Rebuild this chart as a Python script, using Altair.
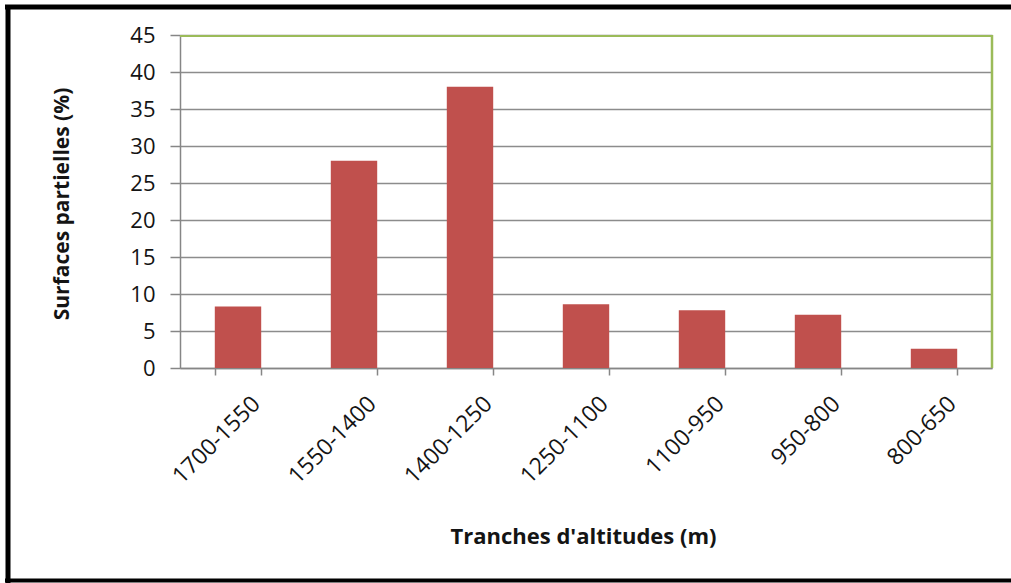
import altair as alt
import pandas as pd

# Altitude bands and the share of surface area in each (%)
tranches = ["1700-1550", "1550-1400", "1400-1250", "1250-1100", "1100-950", "950-800", "800-650"]
surfaces = [8.3, 28.0, 38.0, 8.6, 7.8, 7.2, 2.6]
y_ticks = [0, 5, 10, 15, 20, 25, 30, 35, 40, 45]

df = pd.DataFrame({"tranche": tranches, "surface": surfaces})
one = pd.DataFrame({"k": [0]})

W, H = 812, 333
PAD = {"left": 180, "top": 35, "right": 19, "bottom": 215}
FONT = "Open Sans"
TEXT = "#141414"
AXIS_GRAY = "#868686"

bars = alt.Chart(df).mark_bar(color="#C0504D").encode(
    x=alt.X(
        "tranche:N",
        sort=tranches,
        scale=alt.Scale(paddingInner=0.6, paddingOuter=0.3),
        axis=alt.Axis(
            title="Tranches d'altitudes (m)",
            labelAngle=-45,
            labelAlign="right",
            labelBaseline="middle",
            labelFont=FONT,
            labelFontSize=23,
            labelColor=TEXT,
            labelPadding=25,
            labelOffset=18,
            tickBand="extent",
            tickSize=7,
            tickColor=AXIS_GRAY,
            tickWidth=1.5,
            domainColor=AXIS_GRAY,
            domainWidth=1.5,
            titleFont=FONT,
            titleFontSize=22,
            titleFontWeight="bold",
            titleColor=TEXT,
            titleY=175,
            titleX=W / 2 - 3,
            titleBaseline="alphabetic",
        ),
    ),
    y=alt.Y(
        "surface:Q",
        scale=alt.Scale(domain=[0, 45], nice=False),
        axis=alt.Axis(
            values=y_ticks,
            title="Surfaces partielles (%)",
            grid=True,
            gridColor="#8C8C8C",
            gridWidth=1.5,
            tickSize=10,
            tickColor=AXIS_GRAY,
            tickWidth=1.5,
            domainColor=AXIS_GRAY,
            domainWidth=1.5,
            labelFont=FONT,
            labelFontSize=22,
            labelColor=TEXT,
            labelPadding=15,
            titleFont=FONT,
            titleFontSize=21,
            titleFontWeight="bold",
            titleColor=TEXT,
            titleAngle=-90,
            titleX=-118,
            titleY=H / 2 + 2,
            titleBaseline="middle",
        ),
    ),
)

# green plot-area border on the top and right sides
green_top = alt.Chart(one).mark_rule(color="#9BBB59", strokeWidth=2).encode(
    x=alt.value(0), x2=alt.value(W), y=alt.value(1)
)
green_right = alt.Chart(one).mark_rule(color="#9BBB59", strokeWidth=2.5).encode(
    x=alt.value(W), y=alt.value(0), y2=alt.value(H)
)

# black frame around the whole figure
frame_top = alt.Chart(one).mark_rule(color="black", strokeWidth=5).encode(
    x=alt.value(-175), x2=alt.value(W + 40), y=alt.value(-28)
)
frame_left = alt.Chart(one).mark_rule(color="black", strokeWidth=5).encode(
    x=alt.value(-172), y=alt.value(-30), y2=alt.value(H + 260)
)
frame_bottom = alt.Chart(one).mark_rule(color="black", strokeWidth=4).encode(
    x=alt.value(-175), x2=alt.value(W + 40), y=alt.value(545.5)
)

chart = (
    alt.layer(bars, green_top, green_right, frame_top, frame_left, frame_bottom)
    .properties(width=W, height=H, padding=PAD, autosize="none", background="white")
    .configure_view(stroke=None)
)

chart.save("out.html", embed_options={"renderer": "svg", "actions": False})
